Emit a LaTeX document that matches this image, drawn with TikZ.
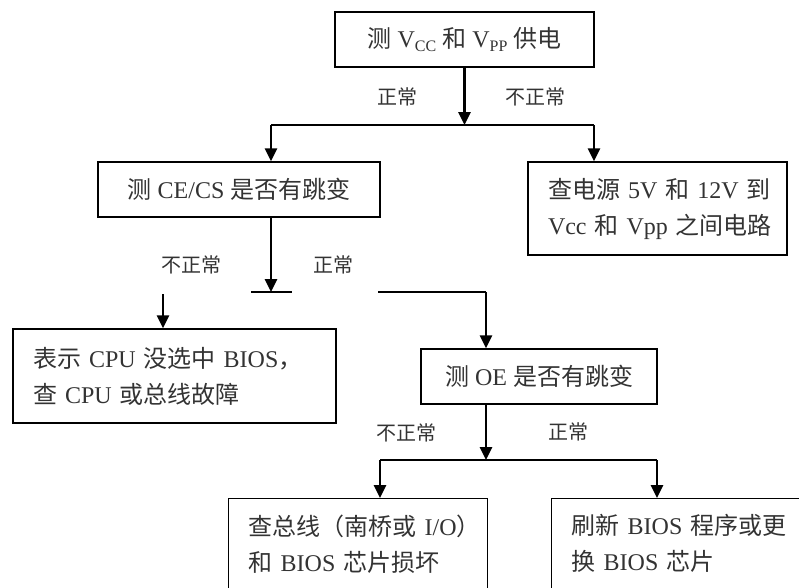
\documentclass[tikz,border=0pt]{standalone}
\usepackage{fontspec}
\setmainfont{Liberation Serif}
\newfontfamily\cjk{Noto Sans CJK SC}
\usetikzlibrary{arrows.meta}
\newcommand\zh[1]{{\cjk #1}}
\newcommand\subx[1]{\raisebox{-0.2em}{\fontsize{16}{16}\selectfont #1}}
\newcommand\rowx[1]{\leavevmode\rlap{#1}}
\begin{document}
\begin{tikzpicture}[x=1pt,y=-1pt,
  box/.style={draw, line width=1.4pt, inner sep=0pt, text=black!80, font=\fontsize{24}{36}\selectfont},
  boxl/.style={box, align=left, inner xsep=20pt},
  lbl/.style={text=black!80, font=\fontsize{20}{20}\selectfont\cjk, inner sep=0pt},
  arr/.style={line width=2.6pt, -{Triangle[length=13pt,width=12pt]}},
  ln/.style={line width=1.4pt}]
\useasboundingbox (0,0) rectangle (799,587);
\clip (0,0) rectangle (799,587);

\node[box, minimum width=259pt, minimum height=55pt] (A) at (464.5,39.5)
  {\zh{测} V\subx{CC} \zh{和} V\subx{PP} \zh{供电}};
\node[box, minimum width=282pt, minimum height=55pt] (B) at (239,189.5)
  {\zh{测} CE/CS \zh{是否有跳变}};
\node[boxl, minimum width=259pt, minimum height=93pt, text width=219pt] (C) at (657.5,208.5)
  {\rowx{\zh{查电源} 5V \zh{和} 12V \zh{到}}\\\rowx{Vcc \zh{和} Vpp \zh{之间电路}}};
\node[boxl, minimum width=323pt, minimum height=94pt, text width=283pt] (D) at (174.5,376)
  {\rowx{\zh{表示} CPU \zh{没选中} BIOS\zh{，}}\\\rowx{\zh{查} CPU \zh{或总线故障}}};
\node[box, minimum width=236pt, minimum height=55pt] (E) at (539,376.5)
  {\zh{测} OE \zh{是否有跳变}};
\node[boxl, anchor=north west, inner ysep=16pt, text width=219pt] (F) at (228,498)
  {\rowx{\zh{查总线（南桥或} I/O\zh{）}}\\\rowx{\zh{和} BIOS \zh{芯片损坏}}\\[20pt]};
\node[boxl, anchor=north west, inner ysep=16pt, text width=240pt] (G) at (551,498)
  {\rowx{\zh{刷新} BIOS \zh{程序或更}}\\\rowx{\zh{换} BIOS \zh{芯片}}\\[20pt]};

\node[lbl] (l1) at (397,97) {正常};
\node[lbl] (l2) at (535,97) {不正常};
\node[lbl] (l3) at (191,265) {不正常};
\node[lbl] (l4) at (333,265) {正常};
\node[lbl] (l5) at (406,433) {不正常};
\node[lbl] (l6) at (568,432) {正常};

\coordinate (h1l) at (271,125);
\coordinate (h1r) at (594,125);
\draw[ln] (h1l) -- (h1r);
\draw[arr] (A.south) -- (A.south |- h1l);
\draw[arr] (h1l) -- (h1l |- B.north);
\draw[arr] (h1r) -- (h1r |- C.north);

\coordinate (t) at (271,292);
\coordinate (tl) at (251,292);
\coordinate (tr) at (292,292);
\draw[arr] (h1l |- B.south) -- (t);
\draw[ln] (tl) -- (tr);

\coordinate (d0) at (163,294);
\draw[arr] (d0) -- (d0 |- D.north);

\coordinate (e0) at (378,292);
\coordinate (e1) at (486,292);
\draw[ln] (e0) -- (e1);
\draw[arr] (e1) -- (e1 |- E.north);

\coordinate (h2l) at (380,460);
\coordinate (h2r) at (657,460);
\draw[arr] (e1 |- E.south) -- (e1 |- h2l);
\draw[ln] (h2l) -- (h2r);
\draw[arr] (h2l) -- (h2l |- F.north);
\draw[arr] (h2r) -- (h2r |- G.north);
\end{tikzpicture}
\end{document}
